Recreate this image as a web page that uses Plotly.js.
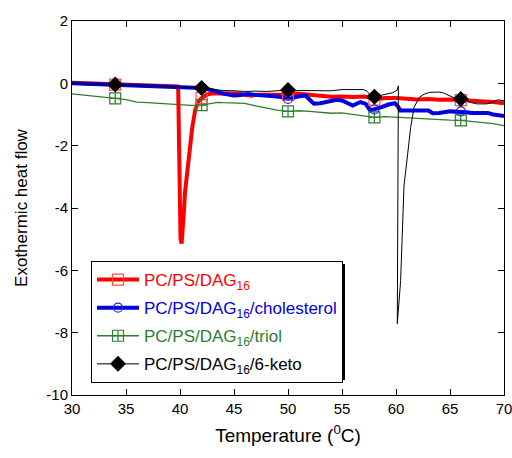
<!DOCTYPE html>
<html>
<head>
<meta charset="utf-8">
<script src="https://cdn.plot.ly/plotly-3.0.1.min.js"></script>
<style>html,body{margin:0;padding:0;background:#fff;}#chart{width:512px;height:458px;}</style>
</head>
<body>
<div id="chart"></div>
<script>
// Temperature (°C) and exothermic heat flow values
const T_dag = [30,31,32,33,34,35,36,37,38,39,39.8,39.83,39.95,40.05,40.15,40.25,40.37,40.46,40.77,41.14,41.4,41.7,42,42.5,43,44,45,45.5,46,46.6,47,48,49,50,50.5,51,52,53,54,55,56,57,57.5,58,59,60,61,62,63,64,65,66,67,68,69,70];
const V_dag = [0.02,0.01,0,-0.02,-0.04,-0.05,-0.06,-0.07,-0.08,-0.09,-0.1,-0.12,-2.8,-5.0,-5.14,-4.8,-4.08,-3.5,-2.48,-1.41,-0.87,-0.58,-0.47,-0.36,-0.32,-0.33,-0.34,-0.33,-0.37,-0.4,-0.37,-0.36,-0.34,-0.36,-0.32,-0.34,-0.36,-0.42,-0.43,-0.42,-0.44,-0.42,-0.45,-0.52,-0.47,-0.47,-0.5,-0.52,-0.5,-0.53,-0.52,-0.54,-0.55,-0.56,-0.6,-0.64];

const T_chol = [30,32,34,36,38,40,42,43,43.5,44,44.5,45,45.4,46,46.3,47,47.8,48.5,49,49.5,50,50.3,50.8,51.6,52,52.4,53,53.5,54.5,55,55.5,56,56.7,57.2,57.6,58,58.6,59.3,59.9,60.2,60.4,61,62,63,63.4,64,65,66,66.5,67,67.7,68.5,69,70];
const V_chol = [0,-0.02,-0.05,-0.08,-0.11,-0.13,-0.15,-0.22,-0.29,-0.33,-0.36,-0.39,-0.38,-0.35,-0.34,-0.37,-0.39,-0.38,-0.42,-0.45,-0.5,-0.48,-0.43,-0.39,-0.5,-0.65,-0.64,-0.6,-0.53,-0.55,-0.62,-0.71,-0.6,-0.66,-0.87,-0.84,-0.77,-0.68,-0.64,-0.75,-0.87,-0.87,-0.88,-0.87,-0.96,-0.95,-0.9,-0.9,-0.93,-0.95,-0.96,-0.95,-1.0,-1.05];

const T_triol = [30,31,32,33,34,35,36,37,38,39,40,41,41.8,42,43,43.5,44,45,46,47,47.5,48,49,50,51,52,53,54,55,56,57,58,59,60,61,62,63,64,65,66,67,68,69,70];
const V_triol = [-0.34,-0.37,-0.42,-0.45,-0.48,-0.52,-0.6,-0.62,-0.64,-0.66,-0.7,-0.71,-0.71,-0.7,-0.64,-0.61,-0.62,-0.63,-0.64,-0.72,-0.76,-0.8,-0.86,-0.9,-0.88,-0.9,-0.93,-0.96,-0.95,-1.0,-1.05,-1.09,-1.07,-1.09,-1.12,-1.13,-1.16,-1.16,-1.18,-1.19,-1.22,-1.25,-1.29,-1.36];

const T_keto = [30,32,34,36,38,40,42,43,44,45,46,47,48,49,50,51,52,53,54,55,56,57,57.3,57.6,58,58.7,59.2,59.7,60.1,60.22,60.12,60.43,60.74,60.99,61.36,61.67,62.16,62.6,63.1,64,64.4,65.3,66,66.5,67,67.5,68.4,69,69.4,70];
const V_keto = [0,-0.02,-0.04,-0.07,-0.1,-0.12,-0.15,-0.19,-0.23,-0.24,-0.26,-0.25,-0.26,-0.24,-0.21,-0.23,-0.23,-0.22,-0.24,-0.2,-0.21,-0.2,-0.25,-0.36,-0.43,-0.37,-0.33,-0.3,-0.22,-0.08,-7.71,-6.33,-3.3,-2.48,-1.41,-0.77,-0.45,-0.35,-0.29,-0.28,-0.31,-0.45,-0.5,-0.55,-0.62,-0.66,-0.66,-0.6,-0.53,-0.56];

const markerT = [34,42,50,58,66];
const xTicks = [30,35,40,45,50,55,60,65,70];
const yTicks = [2,0,-2,-4,-6,-8,-10];

const seriesNames = [
  'PC/PS/DAG<sub>16</sub>',
  'PC/PS/DAG<sub>16</sub>/cholesterol',
  'PC/PS/DAG<sub>16</sub>/triol',
  'PC/PS/DAG<sub>16</sub>/6-keto'
];

function markerPts(T, V) {
  const x = [], y = [];
  markerT.forEach((t, i) => {
    const k = T.indexOf(t);
    if (i > 0) { x.push(null); y.push(null); }
    x.push(t); y.push(V[k]);
  });
  return {x, y};
}

const styles = [
  {T: T_dag, V: V_dag, color: '#ff0000', mcolor: '#ff4a4a', width: 4, symbol: 'square-open', size: 11, text: '#ff0000'},
  {T: T_chol, V: V_chol, color: '#0000e0', mcolor: '#2020e0', width: 4, symbol: 'circle-open', size: 9, text: '#0000e0'},
  {T: T_triol, V: V_triol, color: '#2e7d2e', mcolor: '#2e7d2e', width: 1.3, symbol: 'square-cross-open', size: 11, text: '#2e7d2e'},
  {T: T_keto, V: V_keto, color: '#000000', mcolor: '#000000', width: 1, symbol: 'diamond', size: 11, text: '#000000'}
];

const drawOrder = [2, 0, 1, 3];
const traces = [];
drawOrder.forEach(i => {
  const s = styles[i];
  traces.push({x: s.T, y: s.V, type: 'scatter', mode: 'lines', showlegend: false,
    line: {color: s.color, width: s.width}, hoverinfo: 'skip'});
});
drawOrder.forEach(i => {
  const s = styles[i];
  const m = markerPts(s.T, s.V);
  traces.push({x: m.x, y: m.y, type: 'scatter', mode: 'lines+markers', connectgaps: false,
    name: '<span style="color:' + s.text + '">' + seriesNames[i] + '</span>',
    legendrank: i + 1, legendgroup: 'g' + i,
    line: {color: s.color, width: s.width},
    marker: {symbol: s.symbol, size: s.size, color: s.mcolor, line: {color: s.mcolor, width: 1.2}}});
});

const plotL = 72, plotR = 504, plotT = 21, plotB = 395;
const pw = plotR - plotL, ph = plotB - plotT;
const px = v => (v - plotL) / pw;
const py = v => (plotB - v) / ph;

const font = 'Liberation Sans, Arial, sans-serif';
const layout = {
  width: 512, height: 458,
  margin: {l: plotL, r: 512 - plotR, t: plotT, b: 458 - plotB, pad: 0},
  paper_bgcolor: '#fff', plot_bgcolor: '#fff',
  font: {family: font, color: '#000'},
  showlegend: true,
  xaxis: {range: [30, 70], tickvals: xTicks, ticktext: xTicks.map(String), ticklabeloverflow: 'allow',
    ticks: 'inside', ticklen: 6, tickcolor: '#000', showline: true, linecolor: '#000', linewidth: 1,
    mirror: 'ticks', showgrid: false, zeroline: false, tickfont: {size: 15, family: font},
    title: {text: 'Temperature (<sup>0</sup>C)', font: {size: 19, family: font}, standoff: 12}},
  yaxis: {range: [-10, 2], tickvals: yTicks, ticktext: yTicks.map(String),
    ticks: 'inside', ticklen: 6, tickcolor: '#000', showline: true, linecolor: '#000', linewidth: 1,
    mirror: 'ticks', showgrid: false, zeroline: false, tickfont: {size: 15, family: font},
    title: {text: 'Exothermic heat flow', font: {size: 17, family: font}, standoff: 14}},
  legend: {x: px(91), y: py(261), xanchor: 'left', yanchor: 'top', bgcolor: '#fff',
    bordercolor: '#000', borderwidth: 1, font: {size: 17, family: font}, itemwidth: 42,
    traceorder: 'grouped', tracegroupgap: 3},
  shapes: [{type: 'rect', xref: 'paper', yref: 'paper', x0: px(94), x1: px(345), y0: py(380), y1: py(264),
    fillcolor: '#000', line: {width: 0}, layer: 'above'}]
};

Plotly.newPlot('chart', traces, layout, {displayModeBar: false, staticPlot: true});
</script>
</body>
</html>
